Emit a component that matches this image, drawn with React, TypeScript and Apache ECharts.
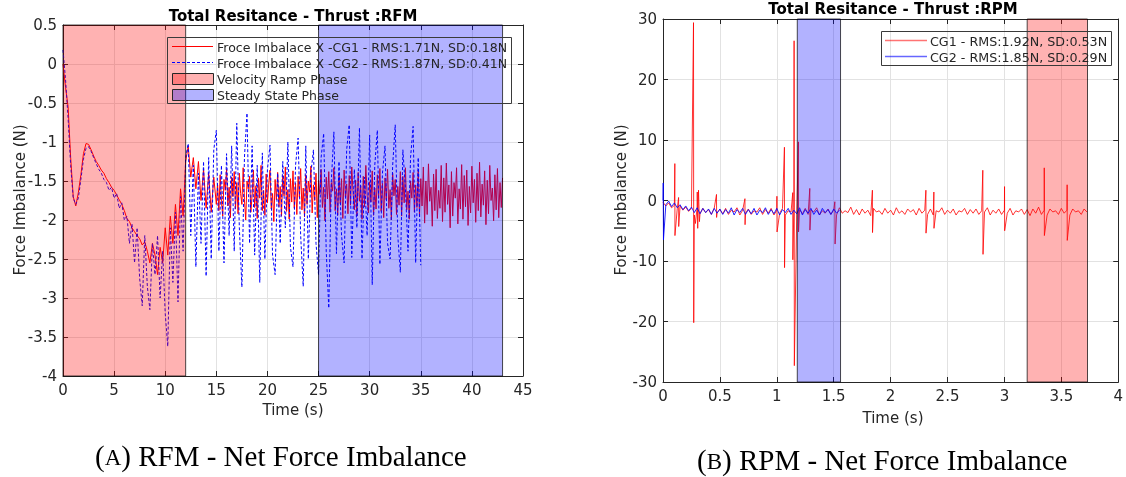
import React, { useEffect, useRef } from 'react';
import * as echarts from 'echarts';

// ---------- (A) RFM ----------
// 0 s .. 15 s sampled every 0.25 s
const rfmEarlyStep = 0.25;
const rfmCg1Early = [
  0.00, -0.30, -0.55, -1.20, -1.70, -1.82, -1.65, -1.42, -1.15, -1.02, -1.03, -1.10, -1.18, -1.25, -1.30, -1.36,
  -1.40, -1.47, -1.52, -1.58, -1.62, -1.68, -1.74, -1.80, -1.88, -1.98, -2.02, -2.10, -2.15, -2.20, -2.24, -2.32, -2.28,
  -2.40, -2.55, -2.30, -2.45, -2.70, -2.35, -2.55, -2.10, -2.45, -1.95, -2.30, -1.80, -2.20, -1.60, -1.95,
  -1.25, -1.05, -1.45, -1.20, -1.60, -1.25, -1.75, -1.35, -1.85, -1.40, -1.90, -1.45,
  -1.80,
];
// 15.125 s .. 43 s sampled every 0.125 s
const rfmLateStart = 15.125;
const rfmLateStep = 0.125;
const rfmCg1Late = [
  -1.55, -1.88, -1.42, -1.76, -1.95, -1.48, -1.62, -1.35, -1.82, -1.58, -1.97, -1.45, -1.70, -1.38, -1.86, -1.52,
  -1.92, -1.40, -1.66, -1.80, -1.33, -1.74, -2.00, -1.50, -1.60, -1.44, -1.90, -1.68, -1.36, -1.84, -1.56, -1.98,
  -1.46, -1.72, -1.30, -1.88, -1.62, -1.94, -1.41, -1.78, -1.54, -1.36, -1.86, -1.66, -2.02, -1.48, -1.74, -1.39,
  -1.83, -1.57, -1.95, -1.43, -1.69, -1.32, -1.89, -1.61, -1.99, -1.47, -1.77, -1.37, -1.85, -1.53, -1.93, -1.44,
  -1.71, -1.34, -1.87, -1.59, -1.96, -1.42, -1.80, -1.50, -1.64, -1.31, -1.91, -1.55, -1.75, -1.40, -1.97, -1.49,
  -1.67, -1.35, -1.84, -1.58, -2.01, -1.45, -1.73, -1.38, -1.90, -1.52, -1.63, -1.33, -1.88, -1.60, -1.94, -1.41,
  -1.79, -1.47, -1.98, -1.36, -1.70, -1.54, -1.92, -1.43, -1.81, -1.32, -1.65, -1.87, -1.49, -1.95, -1.39, -1.76,
  -1.56, -1.99, -1.44, -1.83, -1.30, -1.68, -1.91, -1.51, -1.77, -1.37, -1.94, -1.59, -1.86, -1.42, -1.72, -1.34,
  -1.89, -1.53, -1.97, -1.46, -1.74, -1.35, -1.85, -1.61, -2.00, -1.40, -1.69, -1.48, -1.93, -1.57, -1.81, -1.38,
  -1.95, -1.44, -1.78, -1.33, -1.87, -1.63, -1.99, -1.50, -1.72, -1.39, -1.90, -1.55, -1.84, -1.36, -1.96, -1.47,
  -1.82, -1.32, -2.04, -1.50, -1.93, -1.28, -1.76, -1.58, -2.08, -1.41, -1.88, -1.35, -1.98, -1.62, -1.85, -1.30,
  -2.02, -1.46, -1.90, -1.27, -1.80, -1.55, -2.10, -1.38, -1.95, -1.52, -1.72, -1.33, -2.05, -1.60, -1.86, -1.29,
  -1.99, -1.43, -1.83, -1.36, -2.07, -1.57, -1.91, -1.31, -1.78, -1.48, -2.03, -1.40, -1.88, -1.26, -1.96, -1.54,
  -1.81, -1.37, -2.06, -1.49, -1.92, -1.30, -1.75, -1.59, -2.01, -1.42, -1.87, -1.34, -1.97, -1.52, -1.84, -1.46,
];
// CG2: 0 s .. 35 s sampled every 0.25 s
const rfmCg2Step = 0.25;
const rfmCg2Force = [
  0.18, -0.20, -0.70, -1.30, -1.72, -1.80, -1.72, -1.48, -1.22, -1.08, -1.06, -1.12, -1.20, -1.28, -1.35, -1.40,
  -1.48, -1.52, -1.62, -1.58, -1.72, -1.66, -1.85, -1.78, -2.00, -1.95, -2.30, -2.05, -2.55, -2.10, -2.75, -3.10, -2.20,
  -2.85, -3.15, -2.30, -2.70, -2.20, -3.00, -2.40, -3.20, -3.62, -2.10, -2.80, -1.90, -3.05, -1.70, -2.40,
  -1.20, -1.02, -2.20, -1.30, -2.60, -1.40, -2.30, -1.25, -2.72, -1.20, -2.50, -1.10,
  -0.85, -2.40, -1.30, -2.55, -1.15, -2.20, -1.05, -2.40,
  -0.76, -2.10, -2.86, -1.20, -0.63, -2.30, -1.05, -2.45,
  -1.30, -2.80, -1.14, -2.50, -1.35, -1.04, -2.45, -2.70,
  -1.40, -2.30, -1.25, -2.10, -1.00, -2.35, -2.60, -1.30,
  -0.95, -2.20, -2.85, -1.05, -2.50, -1.40, -1.10, -2.30,
  -2.70, -1.20, -0.89, -2.40, -3.13, -1.50, -0.87, -2.43,
  -1.25, -2.20, -2.55, -1.10, -0.78, -2.48, -1.35, -2.10,
  -0.82, -2.50, -1.45, -2.20, -0.91, -2.83, -1.30, -0.85,
  -2.57, -1.40, -1.05, -2.30, -2.50, -1.30, -0.78, -2.20,
  -2.67, -1.10, -1.60, -2.40, -1.20, -0.80, -2.55, -1.20,
  -2.58,
];
const rfmPhaseStarts = [0, 25];
const rfmPhaseEnds = [12, 43];
const rfmPhaseKinds = [0, 1]; // 0 = Velocity Ramp Phase, 1 = Steady State Phase

// ---------- (B) RPM : sampled every 0.025 s, plus single-sample spikes ----------
const rpmSampleStep = 0.025;
const rpmCg1Force = [
  -0.3, -0.9, -0.4, -1.2, -0.8, -1.4, -0.9, -1.6, -1.1, -1.8,
  -1.3, -2.4, -1.1, -2.2, -1.3, -2.0, -1.5, -2.3, -1.3, -2.0,
  -1.5, -2.2, -1.3, -2.3, -1.6, -1.9, -1.2, -2.4, -1.6, -2.1,
  -1.4, -2.3, -1.7, -1.9, -1.2, -2.3, -1.5, -2.1, -1.3, -2.4,
  -1.6, -2.1, -1.3, -2.4, -1.7, -1.9, -1.2, -2.4, -1.5, -2.2,
  -1.3, -2.3, -1.6, -1.9, -1.2, -2.4, -1.7, -2.1, -1.4, -2.3,
  -1.6, -2.4, -1.2, -2.1, -1.7, -2.0, -1.1, -2.3, -1.5, -2.4,
  -1.4, -2.1, -1.6, -2.5, -1.3, -1.9, -1.7, -2.3, -1.3, -2.1,
  -1.6, -2.4, -1.2, -2.1, -1.7, -2.3, -1.4, -1.9, -1.5, -2.4,
  -1.3, -2.1, -1.6, -2.3, -1.4, -2.4, -1.7, -1.9, -1.2, -2.3,
  -1.6, -2.1, -1.4, -2.4, -1.7, -1.9, -1.3, -2.3, -1.5, -2.1,
  -1.4, -2.3, -1.7, -1.9, -1.2, -2.4, -1.6, -2.1, -1.4, -2.3,
  -1.6, -2.1, -1.3, -2.4, -1.7, -1.9, -1.4, -2.3, -1.5, -2.5,
  -1.4, -2.1, -1.1, -2.3, -1.6, -2.4, -1.4, -1.9, -1.7, -2.3,
  -1.3, -2.1, -1.6, -2.4, -1.4, -1.9, -1.7, -2.3, -1.4, -1.9,
];
const rpmCg1SpikeTimes = [
  0.104, 0.105, 0.137, 0.138, 0.268, 0.270, 0.285, 0.301, 0.305, 0.312, 0.320, 0.470, 0.471, 0.720, 0.721,
  1.001, 1.002, 1.067, 1.068, 1.140, 1.141, 1.152, 1.154, 1.190, 1.191, 1.290, 1.291, 1.510, 1.512,
  1.840, 1.841, 2.310, 2.311, 2.380, 2.381, 2.810, 2.812, 3.001, 3.002, 3.350, 3.351, 3.551, 3.552,
];
const rpmCg1SpikeValues = [
  6.1, -5.8, 0.5, -4.3, 29.4, -20.2, -3.8, 1.4, -4.6, 1.7, -3.5, 1.0, -2.8, 0.3, -4.0,
  0.7, -5.2, 8.8, -11.1, 1.3, -9.8, 26.4, -27.3, 9.7, -5.2, 2.0, -4.9, -0.2, -7.2,
  1.7, -5.3, 1.7, -5.4, 1.4, -4.6, 5.0, -8.9, 2.3, -5.0, 5.4, -5.8, 2.6, -6.6,
];
const rpmCg2Force = [
  0.0, -0.7, -0.1, -1.0, -0.4, -1.2, -0.7, -1.5, -0.9, -1.7,
  -1.1, -2.0, -1.2, -2.2, -1.3, -2.0, -1.4, -2.3, -1.3, -2.1,
  -1.4, -2.3, -1.5, -2.1, -1.2, -2.4, -1.5, -2.0, -1.3, -2.3,
  -1.5, -2.2, -1.3, -2.4, -1.6, -2.0, -1.2, -2.3, -1.5, -2.2,
  -1.3, -2.4, -1.5, -2.0, -1.3, -2.3, -1.6, -2.2, -1.2, -2.4,
  -1.5, -2.1, -1.3, -2.3, -1.6, -2.4, -1.3, -2.0, -1.5, -2.3,
  -1.4, -2.1, -1.6,
];
const rpmCg2SpikeTimes = [0.002, 0.004];
const rpmCg2SpikeValues = [2.9, -6.5];
const rpmPhaseStarts = [1.18, 3.2];
const rpmPhaseEnds = [1.56, 3.73];
const rpmPhaseKinds = [1, 0];

// ---------- labels ----------
const rfmTitle = 'Total Resitance - Thrust :RFM';
const rpmTitle = 'Total Resitance - Thrust :RPM';
const yName = 'Force Imbalance (N)';
const xName = 'Time (s)';
const rfmLegend = [
  'Froce Imbalace X -CG1 - RMS:1.71N, SD:0.18N',
  'Froce Imbalace X -CG2 - RMS:1.87N, SD:0.41N',
  'Velocity Ramp Phase',
  'Steady State Phase',
];
const rpmLegend = ['CG1 - RMS:1.92N, SD:0.53N', 'CG2 - RMS:1.85N, SD:0.29N'];
const captionA = ['(', 'A', ') RFM - Net Force Imbalance'];
const captionB = ['(', 'B', ') RPM - Net Force Imbalance'];

const AX = '#262626';
const GRID = '#e2e2e2';
const SANS = 'DejaVu Sans';
const SERIF = 'Liberation Serif';
const phaseFill = ['rgba(255,0,0,0.3)', 'rgba(0,0,255,0.3)'];

function sampled(start: number, step: number, values: number[]) {
  return values.map((v, i) => [+(start + i * step).toFixed(4), v]);
}
function withSpikes(step: number, values: number[], times: number[], spikes: number[]) {
  const pts = sampled(0, step, values);
  times.forEach((t, i) => pts.push([t, spikes[i]]));
  return pts.sort((a, b) => a[0] - b[0]);
}

function axisPair(gridIndex: number, min: number, max: number, interval: number, isX: boolean) {
  const main: any = {
    gridIndex, type: 'value', min, max, interval,
    position: isX ? 'bottom' : 'left',
    axisLine: { show: true, onZero: false, lineStyle: { color: AX, width: 1 } },
    axisTick: { show: true, inside: true, length: 5, lineStyle: { color: AX } },
    axisLabel: { show: true, color: AX, fontSize: 15, fontFamily: SANS, margin: 6, showMinLabel: true, showMaxLabel: true, hideOverlap: false },
    splitLine: { show: true, lineStyle: { color: GRID, width: 1 } },
  };
  const mirror: any = {
    gridIndex, type: 'value', min, max, interval,
    position: isX ? 'top' : 'right',
    axisLine: { show: true, onZero: false, lineStyle: { color: AX, width: 1 } },
    axisTick: { show: true, inside: true, length: 5, lineStyle: { color: AX } },
    axisLabel: { show: false },
    splitLine: { show: false },
  };
  return [main, mirror];
}

function phaseSeries(xAxisIndex: number, yAxisIndex: number, starts: number[], ends: number[], kinds: number[]) {
  return {
    type: 'custom',
    xAxisIndex, yAxisIndex,
    z: 5,
    clip: false,
    silent: true,
    data: starts.map((s, i) => [s, ends[i]]),
    renderItem: (params: any, api: any) => {
      const cs = params.coordSys;
      const a = api.coord([api.value(0), 0]);
      const b = api.coord([api.value(1), 0]);
      return {
        type: 'rect',
        shape: { x: a[0], y: cs.y, width: b[0] - a[0], height: cs.height },
        style: { fill: phaseFill[kinds[params.dataIndex]], stroke: 'rgba(0,0,0,0.7)', lineWidth: 1 },
      };
    },
  };
}

function txt(x: number, y: number, text: string, size: number, extra: any = {}) {
  return {
    type: 'text', x, y, z: 100,
    style: { text, fontSize: size, fontFamily: SANS, fill: AX, align: 'left', verticalAlign: 'middle', ...extra },
  };
}

// caption with a small-capital letter: pieces placed left to right
function caption(x: number, y: number, parts: string[]) {
  const big = 29;
  const small = 23;
  const wParen = 0.333 * big;
  const wLetter = (parts[1] === 'A' ? 0.722 : 0.667) * small;
  const base = { fontFamily: SERIF, fill: '#000', align: 'left', verticalAlign: 'middle' };
  return [
    { type: 'text', x, y, z: 100, style: { ...base, text: parts[0], fontSize: big } },
    { type: 'text', x: x + wParen, y: y + 0.3 * (big - small), z: 100, style: { ...base, text: parts[1], fontSize: small } },
    { type: 'text', x: x + wParen + wLetter, y, z: 100, style: { ...base, text: parts[2], fontSize: big } },
  ];
}

export default function App() {
  const ref = useRef<HTMLDivElement>(null);
  useEffect(() => {
    document.body.style.margin = '0';
    const chart = echarts.init(ref.current!, undefined, { renderer: 'svg' });
    const [x0, x0t] = axisPair(0, 0, 45, 5, true);
    const [y0, y0r] = axisPair(0, -4, 0.5, 0.5, false);
    const [x1, x1t] = axisPair(1, 0, 4, 0.5, true);
    const [y1, y1r] = axisPair(1, -30, 30, 10, false);

    const legendLeft: any[] = [
      { type: 'rect', z: 100, shape: { x: 167.5, y: 37.5, width: 344, height: 66 }, style: { fill: 'none', stroke: '#3a3a3a', lineWidth: 1 } },
      { type: 'line', z: 100, shape: { x1: 172, y1: 46.5, x2: 213, y2: 46.5 }, style: { stroke: '#ff0000', lineWidth: 1 } },
      { type: 'line', z: 100, shape: { x1: 172, y1: 62.5, x2: 213, y2: 62.5 }, style: { stroke: '#0000ff', lineWidth: 1, lineDash: [3, 2] } },
      { type: 'rect', z: 100, shape: { x: 172.5, y: 73.5, width: 41, height: 11 }, style: { fill: phaseFill[0], stroke: AX, lineWidth: 1 } },
      { type: 'rect', z: 100, shape: { x: 172.5, y: 89.5, width: 41, height: 11 }, style: { fill: phaseFill[1], stroke: AX, lineWidth: 1 } },
      txt(217, 47, rfmLegend[0], 12.5),
      txt(217, 63, rfmLegend[1], 12.5),
      txt(217, 79, rfmLegend[2], 12.5),
      txt(217, 95, rfmLegend[3], 12.5),
    ];
    const legendRight: any[] = [
      { type: 'rect', z: 100, shape: { x: 881.5, y: 31.5, width: 230, height: 34 }, style: { fill: 'none', stroke: '#3a3a3a', lineWidth: 1 } },
      { type: 'line', z: 100, shape: { x1: 885, y1: 40.5, x2: 927, y2: 40.5 }, style: { stroke: 'rgba(255,0,0,0.55)', lineWidth: 1.5 } },
      { type: 'line', z: 100, shape: { x1: 885, y1: 56.5, x2: 927, y2: 56.5 }, style: { stroke: 'rgba(0,0,255,0.6)', lineWidth: 1.5 } },
      txt(930, 41, rpmLegend[0], 12.7),
      txt(930, 57, rpmLegend[1], 12.7),
    ];
    const labels: any[] = [
      txt(293, 16, rfmTitle, 15, { fontWeight: 'bold', fill: '#000', align: 'center' }),
      txt(893, 9, rpmTitle, 15, { fontWeight: 'bold', fill: '#000', align: 'center' }),
      { ...txt(20, 200, yName, 15, { align: 'center' }), rotation: Math.PI / 2 },
      { ...txt(621, 200, yName, 15, { align: 'center' }), rotation: Math.PI / 2 },
      txt(293, 410, xName, 15, { align: 'center' }),
      txt(893, 418, xName, 15, { align: 'center' }),
      ...caption(95, 456, captionA),
      ...caption(697, 460, captionB),
    ];

    chart.setOption({
      animation: false,
      textStyle: { fontFamily: SANS },
      grid: [
        { left: 63, top: 25, width: 460, height: 351, containLabel: false },
        { left: 663, top: 19, width: 460, height: 363, containLabel: false },
      ],
      xAxis: [x0, x0t, x1, x1t],
      yAxis: [y0, y0r, y1, y1r],
      series: [
        {
          type: 'line', xAxisIndex: 0, yAxisIndex: 0, symbol: 'none', z: 2,
          data: [...sampled(0, rfmEarlyStep, rfmCg1Early), ...sampled(rfmLateStart, rfmLateStep, rfmCg1Late)],
          lineStyle: { color: '#ff0000', width: 1 },
        },
        {
          type: 'line', xAxisIndex: 0, yAxisIndex: 0, symbol: 'none', z: 3,
          data: sampled(0, rfmCg2Step, rfmCg2Force),
          lineStyle: { color: '#0000ff', width: 1, type: [3, 2] },
        },
        phaseSeries(0, 0, rfmPhaseStarts, rfmPhaseEnds, rfmPhaseKinds),
        {
          type: 'line', xAxisIndex: 2, yAxisIndex: 2, symbol: 'none', z: 2,
          data: withSpikes(rpmSampleStep, rpmCg1Force, rpmCg1SpikeTimes, rpmCg1SpikeValues),
          lineStyle: { color: '#ff0000', width: 1, opacity: 0.8 },
        },
        {
          type: 'line', xAxisIndex: 2, yAxisIndex: 2, symbol: 'none', z: 3,
          data: withSpikes(rpmSampleStep, rpmCg2Force, rpmCg2SpikeTimes, rpmCg2SpikeValues),
          lineStyle: { color: '#0000ff', width: 1, opacity: 0.85 },
        },
        phaseSeries(2, 2, rpmPhaseStarts, rpmPhaseEnds, rpmPhaseKinds),
      ],
      graphic: [...labels, ...legendLeft, ...legendRight],
    });
    return () => chart.dispose();
  }, []);
  return <div ref={ref} style={{ position: 'fixed', left: 0, top: 0, width: 1126, height: 477 }} />;
}
